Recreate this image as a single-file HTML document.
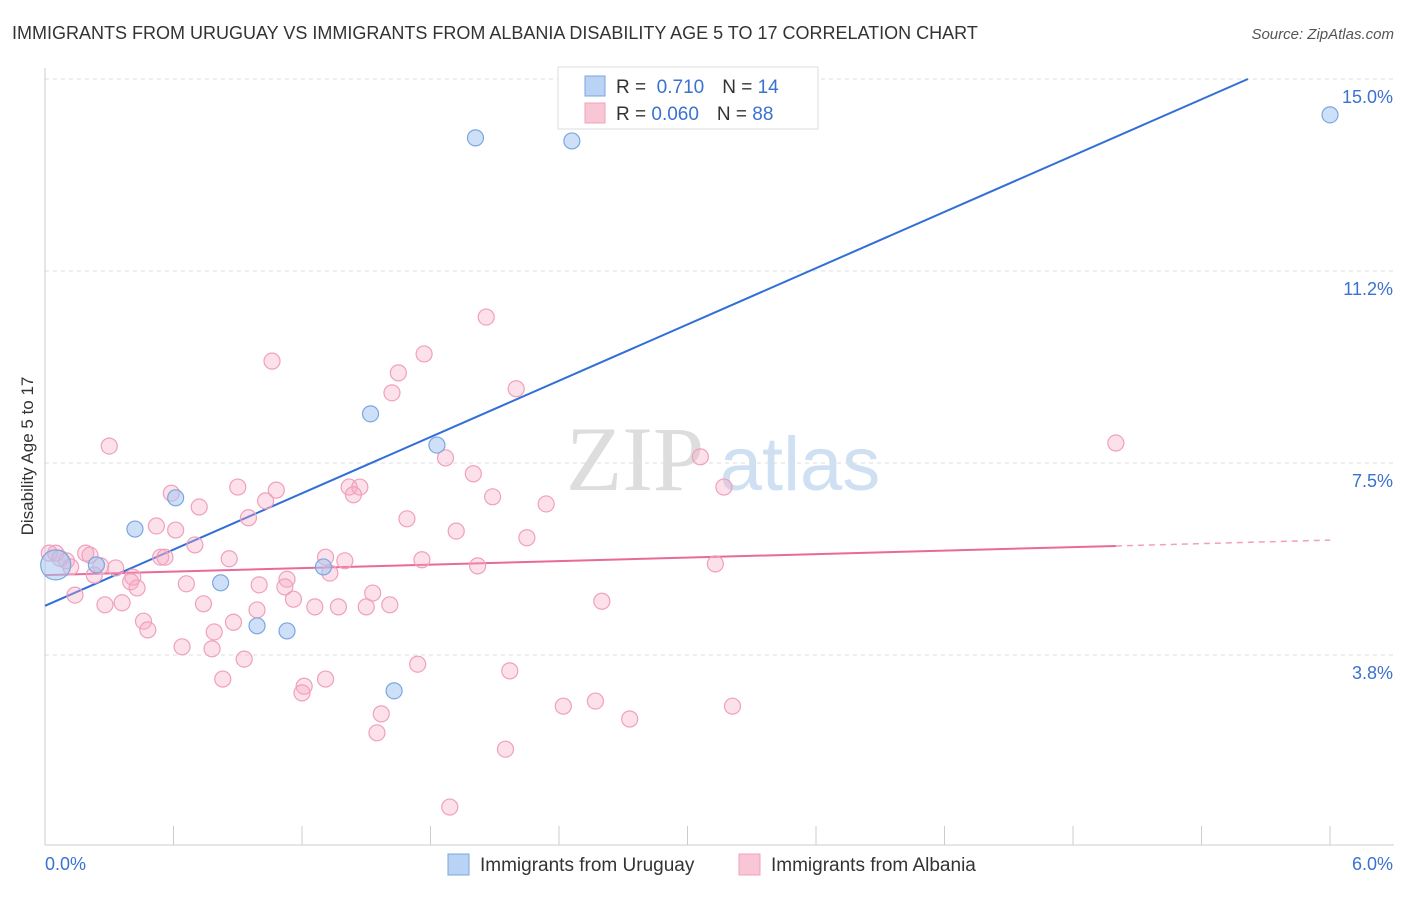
<!DOCTYPE html>
<html><head><meta charset="utf-8"><style>
body{margin:0;background:#fff;font-family:"Liberation Sans",sans-serif}
</style></head><body>
<svg id="chart" width="1406" height="892" xmlns="http://www.w3.org/2000/svg" style="font-family:'Liberation Sans',sans-serif">
<text x="12" y="39" font-size="18" fill="#333">IMMIGRANTS FROM URUGUAY VS IMMIGRANTS FROM ALBANIA DISABILITY AGE 5 TO 17 CORRELATION CHART</text>
<text x="1394" y="39" font-size="15" fill="#555" text-anchor="end" font-style="italic">Source: ZipAtlas.com</text>
<g>
<text x="635" y="490" font-size="92" fill="#ddd" font-family="'Liberation Serif',serif" text-anchor="middle">ZIP</text>
<text x="800" y="490" font-size="76" fill="#cfe0f3" text-anchor="middle">atlas</text>
</g>
<g id="grid"></g>
<g id="axes"></g>
<text transform="translate(33,456) rotate(-90)" font-size="17" fill="#333" text-anchor="middle">Disability Age 5 to 17</text>
<g id="lines"></g>
<g id="points"></g>
<g>
<rect x="558" y="67" width="260" height="62" fill="#fff" stroke="#ddd"/>
<rect x="585" y="76" width="20" height="20" fill="#b9d3f5" stroke="#7aa6e0"/>
<rect x="585" y="103" width="20" height="20" fill="#f9c6d6" stroke="#f0a0bc"/>
<text x="616" y="93" font-size="19" fill="#333">R = <tspan fill="#3a72d0">&#160;0.710</tspan><tspan dx="18">N = </tspan><tspan fill="#3a72d0"> 14</tspan></text>
<text x="616" y="120" font-size="19" fill="#333">R = <tspan fill="#3a72d0">0.060</tspan><tspan dx="18">N = </tspan><tspan fill="#3a72d0">88</tspan></text>
</g>
<g>
<rect x="448" y="854" width="21" height="21" fill="#b9d3f5" stroke="#7aa6e0"/>
<text x="480" y="871" font-size="19" fill="#333">Immigrants from Uruguay</text>
<rect x="739" y="854" width="21" height="21" fill="#f9c6d6" stroke="#f0a0bc"/>
<text x="771" y="871" font-size="19" fill="#333">Immigrants from Albania</text>
</g>
</svg>
<script>
const yTicks=[3.75,7.5,11.25,15];
const yTickLabels=["3.8%","7.5%","11.2%","15.0%"];
const xTickLabels=["0.0%","6.0%"];
const blueX=[2.01,2.46,6.00,1.52,1.83,0.61,0.42,0.24,0.82,1.30,0.99,1.13,1.63,0.05];
const blueY=[13.85,13.79,14.30,8.46,7.85,6.82,6.21,5.51,5.16,5.47,4.32,4.22,3.05,5.51];
const pinkX=[0.30,1.06,2.06,1.77,1.65,1.62,2.20,5.00,3.06,1.87,2.00,3.17,0.90,0.59,0.72,1.08,1.03,1.42,1.47,1.44,2.09,2.34,0.95,1.69,0.52,0.61,1.92,2.25,0.70,0.54,0.56,0.86,1.31,1.40,1.76,2.02,3.13,0.05,0.19,0.21,0.10,0.12,0.33,0.23,0.41,0.40,0.43,0.66,1.00,1.13,1.12,1.33,1.53,1.16,0.14,0.28,0.36,0.74,0.99,1.26,1.37,1.50,1.61,2.60,0.46,0.48,0.88,0.79,0.64,0.78,0.93,1.74,2.17,0.83,1.31,1.21,1.20,2.57,2.42,3.21,2.73,1.57,1.55,2.15,1.89,0.02,0.07,0.26];
const pinkY=[7.83,9.49,10.35,9.63,9.26,8.87,8.95,7.89,7.62,7.60,7.29,7.03,7.03,6.91,6.64,6.97,6.76,7.03,7.03,6.88,6.84,6.70,6.43,6.41,6.27,6.19,6.17,6.04,5.90,5.66,5.66,5.63,5.66,5.59,5.61,5.49,5.53,5.74,5.74,5.70,5.59,5.47,5.45,5.31,5.27,5.18,5.06,5.14,5.12,5.23,5.08,5.35,4.96,4.84,4.92,4.73,4.77,4.75,4.63,4.69,4.69,4.69,4.73,4.80,4.41,4.24,4.39,4.20,3.91,3.87,3.67,3.57,3.44,3.28,3.28,3.14,3.01,2.85,2.75,2.75,2.50,2.60,2.23,1.91,0.78,5.74,5.64,5.49];
const blueTrend=[4.71,1.832];
const pinkTrend=[5.31,0.114];
const NS="http://www.w3.org/2000/svg";
const X=v=>45+v*214.17, Y=v=>847-v*51.2;
function mk(t,a,p){const e=document.createElementNS(NS,t);for(const k in a)e.setAttribute(k,a[k]);p.appendChild(e);return e;}
const grid=document.getElementById('grid'),axes=document.getElementById('axes'),lines=document.getElementById('lines'),pts=document.getElementById('points');
yTicks.forEach((t,i)=>{
 const l=mk('line',{x1:45,x2:1394,y1:Y(t),y2:Y(t),stroke:'#ddd','stroke-dasharray':'4,4'},grid);
 
 
 const tx=mk('text',{x:1393,y:Y(t)+24,'font-size':18,fill:'#3a72d0','text-anchor':'end'},axes);
 tx.textContent=yTickLabels[i];
 
 
});
const ax=mk('line',{x1:45,x2:1394,y1:845,y2:845,stroke:'#ccc'},axes);


const ay=mk('line',{x1:45,x2:45,y1:68,y2:845,stroke:'#ccc'},axes);


for(let i=0;i<=10;i++){const v=i*0.6;const t=mk('line',{x1:X(v),x2:X(v),y1:826,y2:845,stroke:'#ccc'},axes);
 
 }
[0,6].forEach((v,i)=>{const t=mk('text',{x:i?1393:45,y:870,'font-size':18,fill:'#3a72d0','text-anchor':i?'end':'start'},axes);t.textContent=xTickLabels[i];
 
 });
const bx2=(15-blueTrend[0])/blueTrend[1];
const bl=mk('line',{x1:X(0),y1:Y(blueTrend[0]),x2:X(bx2),y2:Y(15),stroke:'#2f6fd6','stroke-width':2},lines);


const pl=mk('line',{x1:X(0),y1:Y(pinkTrend[0]),x2:X(5),y2:Y(pinkTrend[0]+5*pinkTrend[1]),stroke:'#e8699a','stroke-width':2},lines);


const pd=mk('line',{x1:X(5),y1:Y(pinkTrend[0]+5*pinkTrend[1]),x2:X(6),y2:Y(pinkTrend[0]+6*pinkTrend[1]),stroke:'#f0a0bc','stroke-width':1.5,'stroke-dasharray':'6,5'},lines);


pinkX.forEach((v,i)=>{const c=mk('circle',{cx:X(v),cy:Y(pinkY[i]),r:8,fill:'rgba(246,170,196,0.35)',stroke:'#f0a0bc','stroke-width':1.2},pts);
 
 });
blueX.forEach((v,i)=>{const c=mk('circle',{cx:X(v),cy:Y(blueY[i]),r:i==13?15:8,fill:'rgba(165,198,242,0.55)',stroke:'#7aa6e0','stroke-width':1.2},pts);
 
 });
</script>
</body></html>
